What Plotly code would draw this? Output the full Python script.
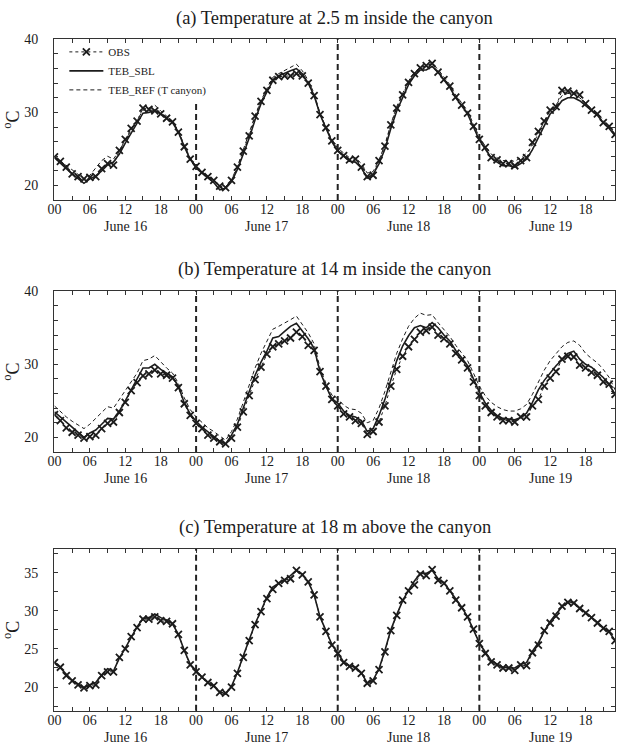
import plotly.graph_objects as go

# Hourly time axis: hours since 00 June 16
HOURS = list(range(96))

# Tick labelling
HOUR_LABELS = ["00", "06", "12", "18"]
DAY_LABELS = ["June 16", "June 17", "June 18", "June 19"]
DAY_CENTRES = [12, 36, 60, 84]
DAY_BOUNDARIES = [24, 48, 72]

PANEL_TITLES = [
    "(a) Temperature at 2.5 m inside the canyon",
    "(b) Temperature at 14 m inside the canyon",
    "(c) Temperature at 18 m above the canyon",
]

# (a) 2.5 m inside the canyon
OBS_A = [23.9, 23.3, 22.5, 21.6, 21.2, 20.9, 21.1, 21.2, 22.3, 23.0, 22.8, 24.8,
         26.3, 27.8, 28.8, 30.6, 30.4, 30.2, 29.8, 29.2, 28.7, 27.3, 25.3, 23.6,
         22.6, 21.8, 21.2, 20.7, 19.9, 19.7, 20.7, 22.5, 24.7, 26.8, 29.5, 31.5,
         33.0, 34.4, 34.9, 35.0, 35.0, 35.3, 35.0, 34.0, 32.3, 29.7, 27.9, 26.1,
         24.8, 24.1, 23.5, 23.6, 22.5, 21.2, 21.4, 23.4, 25.4, 28.3, 30.6, 32.4,
         34.1, 35.3, 36.1, 36.4, 36.7, 35.5, 34.5, 33.6, 32.1, 31.0, 29.9, 28.1,
         26.3, 25.2, 23.8, 23.5, 23.0, 23.0, 22.7, 23.4, 23.8, 25.9, 27.4, 28.8,
         30.3, 30.8, 33.0, 32.9, 32.6, 32.4, 31.2, 30.3, 29.8, 28.6, 28.1, 27.0]
SBL_A = [23.8, 23.0, 22.3, 21.6, 21.0, 20.3, 20.9, 21.3, 22.0, 22.8, 23.2, 24.3,
         25.8, 27.2, 28.6, 29.9, 30.0, 30.3, 29.8, 29.2, 28.6, 27.3, 25.3, 23.6,
         22.4, 21.7, 21.0, 20.4, 19.4, 19.6, 20.5, 22.2, 24.3, 26.5, 29.0, 31.2,
         32.8, 34.3, 35.0, 35.4, 35.7, 36.0, 35.3, 34.0, 32.3, 29.7, 27.8, 26.0,
         24.7, 24.0, 23.3, 23.2, 22.4, 21.0, 21.5, 23.0, 25.0, 27.8, 30.2, 32.0,
         33.8, 35.0, 35.8, 35.8, 36.3, 35.5, 34.4, 33.4, 32.0, 30.9, 29.8, 28.0,
         26.2, 25.0, 23.8, 23.2, 22.7, 22.7, 22.5, 23.0, 23.6, 24.9, 26.5, 28.3,
         29.8, 30.5, 31.6, 32.0, 32.0, 31.6, 30.9, 30.2, 29.6, 28.6, 27.8, 26.8]
REF_A = [24.0, 23.4, 22.7, 22.1, 21.6, 20.9, 21.4, 22.4, 23.4, 24.0, 23.6, 24.8,
         26.2, 27.6, 29.0, 30.3, 30.6, 31.0, 30.2, 29.5, 28.8, 27.5, 25.5, 23.8,
         22.6, 21.9, 21.2, 20.7, 19.8, 19.8, 20.8, 22.6, 24.8, 27.2, 29.6, 31.6,
         33.3, 34.8, 35.3, 35.7, 36.1, 36.6, 35.7, 34.4, 32.6, 29.9, 28.0, 26.3,
         25.1, 24.4, 23.8, 23.8, 23.0, 21.7, 21.9, 23.5, 25.6, 28.4, 30.8, 32.6,
         34.3, 35.5, 36.2, 36.3, 36.7, 35.9, 34.8, 33.8, 32.4, 31.3, 30.2, 28.4,
         26.6, 25.4, 24.3, 23.8, 23.4, 23.4, 23.3, 23.8, 24.4, 25.5, 27.2, 28.8,
         30.3, 31.0, 32.3, 32.6, 32.5, 32.0, 31.3, 30.5, 29.9, 28.9, 28.0, 27.0]

# (b) 14 m inside the canyon
OBS_B = [23.1, 22.3, 21.3, 20.7, 20.3, 19.9, 20.1, 20.3, 21.2, 21.9, 22.1, 23.4,
         24.8, 26.4, 27.5, 28.4, 28.7, 29.2, 28.7, 28.5, 28.1, 26.8, 24.6, 23.0,
         21.9, 21.2, 20.3, 19.9, 19.4, 19.1, 19.9, 21.4, 23.5, 25.7, 27.9, 29.6,
         31.4, 32.4, 32.8, 33.2, 33.6, 34.4, 33.8, 32.6, 31.9, 29.0, 27.0, 25.2,
         24.3, 23.2, 22.8, 22.3, 21.9, 20.4, 20.8, 22.1, 24.3, 27.0, 29.3, 31.1,
         32.4, 33.4, 34.4, 34.6, 35.1, 34.0, 33.5, 32.8, 31.5, 30.6, 29.5, 27.6,
         25.7, 24.3, 23.4, 22.8, 22.3, 22.3, 22.1, 22.8, 22.8, 24.3, 25.2, 27.0,
         28.1, 29.0, 30.7, 31.1, 31.0, 29.9, 29.5, 28.9, 28.5, 27.6, 27.3, 25.9]
SBL_B = [23.5, 22.8, 22.0, 21.3, 20.7, 20.0, 20.6, 21.0, 21.8, 22.6, 22.5, 23.6,
         25.0, 26.5, 28.0, 29.5, 29.5, 30.0, 29.3, 28.8, 28.3, 27.0, 24.7, 23.2,
         22.2, 21.4, 20.8, 20.2, 19.5, 19.1, 20.3, 21.8, 24.0, 26.3, 28.5, 30.3,
         31.8, 33.6, 33.8, 34.5, 35.2, 35.6, 34.5, 33.5, 32.2, 29.0, 27.0, 25.3,
         24.7, 23.6, 23.0, 22.8, 22.3, 20.8, 21.2, 23.0, 25.2, 28.0, 30.5, 32.5,
         33.9, 35.0, 35.3, 35.0, 35.7, 35.0, 34.0, 33.2, 31.9, 30.9, 29.8, 28.0,
         26.2, 24.7, 23.7, 23.0, 22.6, 22.5, 22.4, 22.7, 23.3, 24.8, 26.5, 27.8,
         28.8, 29.8, 30.6, 31.5, 31.8, 30.7, 30.0, 29.6, 28.9, 28.2, 27.2, 25.9]
REF_B = [24.3, 23.5, 22.8, 22.2, 21.7, 21.2, 21.8, 22.6, 23.3, 24.2, 24.0, 25.2,
         26.4, 27.5, 28.8, 30.5, 30.7, 31.2, 30.3, 29.5, 28.8, 27.4, 25.4, 23.8,
         22.8, 22.0, 21.3, 20.8, 20.2, 19.6, 20.8, 22.5, 24.8, 27.2, 29.5, 31.5,
         33.2, 34.8, 35.2, 35.6, 36.1, 36.6, 35.4, 34.3, 32.8, 29.5, 27.4, 25.8,
         25.3, 24.4, 23.9, 23.8, 23.3, 22.0, 22.3, 24.0, 26.3, 29.0, 31.5, 33.5,
         35.2, 36.3, 37.0, 36.7, 36.8, 35.7, 34.8, 33.8, 32.6, 31.5, 30.5, 28.8,
         27.0, 25.7, 24.8, 24.2, 23.8, 23.6, 23.6, 23.9, 24.5, 25.9, 27.6, 29.2,
         30.5, 31.5, 32.4, 33.0, 33.2, 32.6, 31.5, 30.8, 30.2, 29.3, 28.2, 26.5]

# (c) 18 m above the canyon
OBS_C = [23.2, 22.6, 21.5, 20.8, 20.3, 19.9, 20.2, 20.3, 21.5, 22.0, 22.0, 23.9,
         25.0, 26.6, 27.8, 28.9, 28.9, 29.2, 28.7, 28.6, 28.3, 26.9, 24.8, 22.9,
         22.0, 21.3, 20.6, 20.2, 19.3, 19.2, 20.0, 21.8, 23.9, 26.1, 28.2, 29.9,
         31.6, 32.8, 33.6, 34.0, 34.2, 35.3, 34.7, 33.8, 32.1, 29.2, 27.3, 25.5,
         24.4, 23.2, 22.7, 22.5, 21.8, 20.5, 20.8, 22.3, 24.6, 27.4, 29.4, 31.4,
         32.6, 33.4, 34.8, 34.6, 35.4, 34.0, 33.6, 32.6, 31.4, 30.4, 29.2, 27.6,
         25.7, 24.4, 23.3, 22.9, 22.5, 22.5, 22.2, 22.9, 22.8, 24.5, 25.5, 27.4,
         28.4, 29.3, 30.6, 31.1, 31.0, 30.3, 29.7, 29.1, 28.4, 27.7, 27.3, 26.1]
SBL_C = [23.3, 22.5, 21.6, 20.9, 20.4, 19.9, 20.3, 20.6, 21.6, 22.4, 22.1, 23.8,
         25.1, 26.6, 27.9, 29.0, 29.1, 29.6, 29.1, 28.8, 28.3, 26.9, 24.8, 23.0,
         22.1, 21.3, 20.6, 20.1, 19.4, 19.1, 20.1, 21.9, 24.1, 26.2, 28.3, 30.0,
         31.8, 33.1, 33.6, 34.1, 34.6, 35.3, 34.8, 33.8, 32.1, 29.2, 27.4, 25.6,
         24.5, 23.3, 22.8, 22.6, 21.9, 20.5, 20.9, 22.4, 24.8, 27.5, 29.5, 31.3,
         32.7, 33.9, 34.9, 34.9, 35.3, 34.2, 33.7, 32.6, 31.5, 30.5, 29.2, 27.6,
         25.8, 24.6, 23.5, 23.0, 22.6, 22.5, 22.5, 23.0, 23.2, 24.7, 25.8, 27.3,
         28.6, 29.6, 30.5, 31.2, 31.1, 30.4, 29.8, 29.2, 28.5, 27.8, 27.2, 26.1]

W, H = 622, 754
FONT = "Liberation Serif"
INK = "#1c1c1c"

# Panel geometry in pixels (left, right, top, bottom)
X_LEFT, X_RIGHT = 48, 615
PANEL_TOPS = [33, 290, 553]
PANEL_BOTTOMS = [197, 454, 718]
TITLE_CENTRES = [12, 268, 531.5]
Y_RANGES = [(18, 40), (18, 40), (16.9, 38.1)]
Y_TICKS = [list(range(18, 41, 2)), list(range(18, 41, 2)),
           [17.5 + 2.5 * i for i in range(9)]]
Y_LABELLED = [[20, 30, 40], [20, 30, 40], [20, 25, 30, 35]]

# x tick positions every 3 h; labels every 6 h
x_tickvals, x_ticktext = [], []
for d in range(len(DAY_LABELS)):
    for k in range(8):
        h = 24 * d + 3 * k
        if h > 95:
            continue
        x_tickvals.append(h)
        x_ticktext.append(HOUR_LABELS[k // 2] if k % 2 == 0 else " ")

series = [
    (OBS_A, SBL_A, REF_A),
    (OBS_B, SBL_B, REF_B),
    (OBS_C, SBL_C, None),
]

fig = go.Figure()
layout = dict(
    width=W, height=H,
    margin=dict(l=0, r=0, t=0, b=0),
    paper_bgcolor="white", plot_bgcolor="white",
    font=dict(family=FONT, size=13, color=INK),
    showlegend=True,
    legend=dict(x=58 / W, y=1 - 31 / H, xanchor="left", yanchor="top",
                bgcolor="rgba(0,0,0,0)", font=dict(family=FONT, size=11, color=INK),
                tracegroupgap=0, itemwidth=34),
    shapes=[], annotations=[],
)

for i, (obs, sbl, ref) in enumerate(series):
    n = "" if i == 0 else str(i + 1)
    xa, ya = "x" + n, "y" + n
    top = 1 - PANEL_TOPS[i] / H
    bot = 1 - PANEL_BOTTOMS[i] / H
    show = i == 0

    fig.add_trace(go.Scatter(
        x=HOURS, y=obs, xaxis=xa, yaxis=ya, name="OBS", showlegend=show,
        mode="lines+markers",
        line=dict(color=INK, width=1, dash="dot"),
        marker=dict(symbol="x-thin", size=7, line=dict(color=INK, width=1.8)),
    ))
    fig.add_trace(go.Scatter(
        x=HOURS, y=sbl, xaxis=xa, yaxis=ya, name="TEB_SBL", showlegend=show,
        mode="lines", line=dict(color=INK, width=1.6),
    ))
    if ref is not None:
        fig.add_trace(go.Scatter(
            x=HOURS, y=ref, xaxis=xa, yaxis=ya, name="TEB_REF (T canyon)",
            showlegend=show, mode="lines",
            line=dict(color=INK, width=1, dash="4px,3px"),
        ))

    axis_common = dict(showline=True, linecolor="#333", linewidth=1, mirror="ticks",
                       showgrid=False, zeroline=False, ticks="inside", ticklen=4,
                       tickcolor="#333", tickfont=dict(family=FONT, size=14, color=INK))
    layout["xaxis" + n] = dict(
        axis_common, domain=[X_LEFT / W, X_RIGHT / W], anchor=ya,
        range=[0, 95], tickmode="array", tickvals=x_tickvals, ticktext=x_ticktext,
        ticklabelstandoff=-4,
    )
    layout["yaxis" + n] = dict(
        axis_common, domain=[bot, top], anchor=xa, range=list(Y_RANGES[i]),
        tickmode="array", tickvals=Y_TICKS[i],
        ticktext=[(f"{v:g}&nbsp;" if v in Y_LABELLED[i] else " ") for v in Y_TICKS[i]],
        ticklabelstandoff=9,
        title=dict(text="<sup>o</sup>C", font=dict(family=FONT, size=18, color=INK),
                   standoff=4),
    )

    # day boundaries
    for j, b in enumerate(DAY_BOUNDARIES):
        y1 = 0.62 if (i == 0 and j == 0) else 1
        layout["shapes"].append(dict(
            type="line", xref=xa, yref=ya + " domain", x0=b, x1=b, y0=0, y1=y1,
            line=dict(color="#222", width=2, dash="6px,4px"),
        ))

    # day names under the hour labels
    for c, day in zip(DAY_CENTRES, DAY_LABELS):
        layout["annotations"].append(dict(
            text=day, xref=xa, yref="paper", x=c, y=1 - (PANEL_BOTTOMS[i] + 27) / H,
            xanchor="center", yanchor="middle", showarrow=False,
            font=dict(family=FONT, size=14, color=INK),
        ))

    layout["annotations"].append(dict(
        text=PANEL_TITLES[i], xref="paper", yref="paper",
        x=(X_LEFT + X_RIGHT) / 2 / W, y=1 - TITLE_CENTRES[i] / H,
        xanchor="center", yanchor="middle", showarrow=False,
        font=dict(family=FONT, size=18.5, color=INK),
    ))

fig.update_layout(**layout)
fig.write_html("out.html")
